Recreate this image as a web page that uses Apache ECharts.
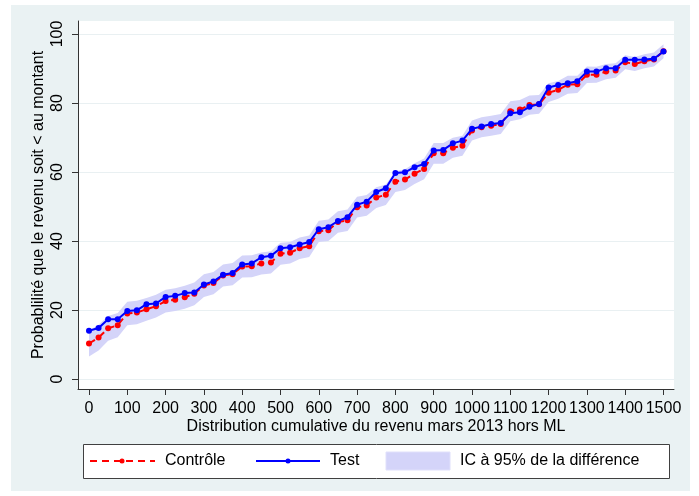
<!DOCTYPE html>
<html>
<head>
<meta charset="utf-8">
<script src="https://cdn.jsdelivr.net/npm/echarts@6/dist/echarts.min.js"></script>
<style>html,body{margin:0;padding:0;background:#fff}#c{width:699px;height:496px}</style>
</head>
<body>
<div id="c"></div>
<script>
const incomes = [0,25,50,75,100,125,150,175,200,225,250,275,300,325,350,375,400,425,450,475,500,525,550,575,600,625,650,675,700,725,750,775,800,825,850,875,900,925,950,975,1000,1025,1050,1075,1100,1125,1150,1175,1200,1225,1250,1275,1300,1325,1350,1375,1400,1425,1450,1475,1500];
const controle = [10.3,12.0,14.7,15.6,19.0,19.3,20.2,21.1,22.6,23.0,23.7,24.7,27.1,27.8,30.0,30.4,32.6,32.7,33.5,33.8,36.3,36.6,37.9,38.5,42.8,43.1,45.5,46.0,49.8,50.3,52.6,53.4,57.2,57.8,59.5,60.9,65.4,65.4,67.0,67.6,72.0,73.0,73.4,73.9,77.6,78.1,79.4,79.6,83.0,83.8,85.3,85.4,88.2,88.2,89.1,89.4,91.8,91.3,92.1,92.6,95.0];
const test = [14.0,14.8,17.3,17.3,19.7,19.9,21.7,21.9,23.8,24.1,24.9,25.1,27.4,28.3,30.2,30.7,33.2,33.5,35.3,35.7,37.9,38.2,39.0,39.7,43.4,44.0,45.8,46.9,50.5,51.4,54.2,55.3,59.7,59.9,61.4,62.3,66.2,66.4,68.3,69.1,72.5,73.2,73.9,74.2,77.0,77.3,78.9,79.7,84.5,85.2,85.7,86.3,89.1,89.1,90.1,90.1,92.5,92.5,92.6,92.8,94.9];
const ciLow = [6.5,8.3,11.1,12.1,15.6,15.9,16.9,17.8,19.3,19.7,20.4,21.4,23.8,24.6,26.8,27.2,29.4,29.5,30.3,30.6,33.1,33.5,34.8,35.4,39.7,40.0,42.4,42.9,46.8,47.3,49.6,50.4,54.2,54.8,56.5,57.9,62.4,62.4,64.1,64.7,69.1,70.1,70.5,71.0,74.7,75.3,76.6,76.9,80.3,81.2,82.7,82.9,85.8,85.9,86.9,87.3,89.8,89.3,90.1,90.6,93.0];
const ciHigh = [14.1,15.7,18.3,19.1,22.4,22.7,23.5,24.4,25.9,26.3,27.0,28.0,30.4,31.0,33.2,33.6,35.8,35.9,36.7,37.0,39.5,39.7,41.0,41.6,45.9,46.2,48.6,49.1,52.8,53.3,55.6,56.4,60.2,60.8,62.5,63.9,68.4,68.4,69.9,70.5,74.9,75.9,76.3,76.8,80.5,80.9,82.2,82.3,85.7,86.4,87.9,87.9,90.6,90.5,91.3,91.5,93.8,93.3,94.1,94.6,97.0];
const xTicks = [0,100,200,300,400,500,600,700,800,900,1000,1100,1200,1300,1400,1500];
const yTicks = [0,20,40,60,80,100];
const xTitle = 'Distribution cumulative du revenu mars 2013 hors ML';
const yTitle = 'Probablilité que le revenu soit < au montant';
const names = ['Contrôle','Test','IC à 95% de la différence'];

const FONT = "'Liberation Sans', Arial, Helvetica, sans-serif";
const RED = '#ff0000', BLUE = '#0000ff', BAND = '#d4d4f9', AXIS = '#333333', GRIDC = '#e9f0f2';

const pairs = arr => arr.map((v, i) => [incomes[i], v]);
const bandRows = incomes.map((x, i) => [x, ciLow[i], ciHigh[i]]);

const LY = 461;
const chart = echarts.init(document.getElementById('c'), null, {renderer: 'canvas'});
chart.setOption({
  animation: false,
  backgroundColor: '#ffffff',
  textStyle: {fontFamily: FONT},
  graphic: [
    {type: 'rect', z: -10, shape: {x: 11, y: 5, width: 679, height: 486}, style: {fill: '#eaf2f3'}},
    {type: 'rect', z: -9, shape: {x: 78, y: 21, width: 596, height: 368}, style: {fill: '#ffffff'}},
    {type: 'rect', z: 10, shape: {x: 83.5, y: 444.5, width: 586, height: 34}, style: {fill: '#ffffff', stroke: '#404040', lineWidth: 1}},
    {type: 'line', z: 11, shape: {x1: 90, y1: LY, x2: 155, y2: LY}, style: {stroke: RED, lineWidth: 2, lineDash: [7, 5]}},
    {type: 'circle', z: 12, shape: {cx: 122, cy: LY, r: 2.5}, style: {fill: RED}},
    {type: 'text', z: 12, x: 165, y: LY, style: {text: names[0], font: '16px ' + FONT, fill: '#000', verticalAlign: 'middle'}},
    {type: 'line', z: 11, shape: {x1: 256, y1: LY, x2: 320, y2: LY}, style: {stroke: BLUE, lineWidth: 2}},
    {type: 'circle', z: 12, shape: {cx: 288, cy: LY, r: 2.5}, style: {fill: BLUE}},
    {type: 'text', z: 12, x: 330, y: LY, style: {text: names[1], font: '16px ' + FONT, fill: '#000', verticalAlign: 'middle'}},
    {type: 'rect', z: 11, shape: {x: 386, y: LY - 9, width: 64, height: 18}, style: {fill: BAND, stroke: '#e0e0fb', lineWidth: 1}},
    {type: 'text', z: 12, x: 460, y: LY, style: {text: names[2], font: '16px ' + FONT, fill: '#000', verticalAlign: 'middle'}}
  ],
  grid: {left: 78, right: 25, top: 21, bottom: 107, containLabel: false},
  xAxis: {
    type: 'value', min: -28.7, max: 1527.4,
    name: xTitle, nameLocation: 'middle', nameGap: 30, nameMoveOverlap: false,
    nameTextStyle: {fontSize: 16, color: '#000', fontFamily: FONT},
    axisLine: {show: true, onZero: false, lineStyle: {color: AXIS, width: 1}},
    axisTick: {show: true, length: 6, customValues: xTicks, lineStyle: {color: AXIS}},
    axisLabel: {customValues: xTicks, fontSize: 16, color: '#000', margin: 12, fontFamily: FONT,
      formatter: v => String(v), showMaxLabel: true, showMinLabel: true, hideOverlap: false},
    splitLine: {show: false}
  },
  yAxis: {
    type: 'value', min: -2.89, max: 103.76,
    name: yTitle, nameLocation: 'middle', nameGap: 31, nameRotate: 90, nameMoveOverlap: false,
    nameTextStyle: {fontSize: 16, color: '#000', fontFamily: FONT},
    axisLine: {show: true, onZero: false, lineStyle: {color: AXIS, width: 1}},
    axisTick: {show: true, length: 6, customValues: yTicks, lineStyle: {color: AXIS}},
    axisLabel: {customValues: yTicks, fontSize: 16, color: '#000', margin: 12, rotate: 90, fontFamily: FONT,
      formatter: v => String(v)},
    splitLine: {show: false}
  },
  series: [
    {
      name: names[2], type: 'custom', data: bandRows, silent: true, z: 1,
      encode: {x: 0, y: [1, 2]},
      renderItem: function (params, api) {
        if (params.dataIndex !== 0) return null;
        const pts = [];
        for (let i = 0; i < bandRows.length; i++) pts.push(api.coord([bandRows[i][0], bandRows[i][2]]));
        for (let i = bandRows.length - 1; i >= 0; i--) pts.push(api.coord([bandRows[i][0], bandRows[i][1]]));
        return {type: 'polygon', shape: {points: pts}, style: {fill: BAND}};
      },
      markLine: {silent: true, symbol: 'none', label: {show: false}, z: 0,
        lineStyle: {color: GRIDC, width: 1, type: 'solid'},
        data: yTicks.map(v => ({yAxis: v}))}
    },
    {
      name: names[0], type: 'line', data: pairs(controle), symbol: 'circle', symbolSize: 6,
      itemStyle: {color: RED}, lineStyle: {color: RED, width: 2, type: [7, 5]}, z: 3
    },
    {
      name: names[1], type: 'line', data: pairs(test), symbol: 'circle', symbolSize: 6,
      itemStyle: {color: BLUE}, lineStyle: {color: BLUE, width: 2}, z: 4
    }
  ]
});
</script>
</body>
</html>
